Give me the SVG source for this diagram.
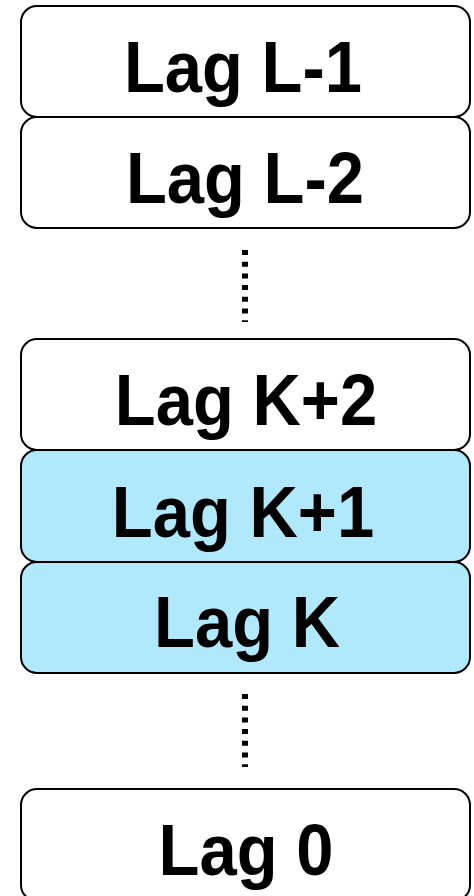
<svg xmlns="http://www.w3.org/2000/svg" width="474" height="896" viewBox="0 0 474 896">
<style>
.box{fill:#ffffff;stroke:#000;stroke-width:2}
.hl{fill:#b0e9fb}
.lbl{font-family:"Liberation Sans",Arial,sans-serif;font-weight:bold;font-size:72px;text-anchor:middle;fill:#000}
.dots{stroke:#000;stroke-width:6;stroke-dasharray:5 6.7;fill:none}
</style>
<rect width="474" height="896" fill="#fff"/>
<g id="connectors">
<line class="dots" x1="245" y1="250" x2="245" y2="322"/>
<line class="dots" x1="245" y1="694" x2="245" y2="767"/>
</g>
<g id="lagL1"><rect class="box" x="21" y="6" width="449" height="111" rx="16"/><text class="lbl" transform="translate(243,92) scale(0.93,1)">Lag L-1</text></g>
<g id="lagL2"><rect class="box" x="21" y="117" width="449" height="111" rx="16"/><text class="lbl" transform="translate(245,203) scale(0.93,1)">Lag L-2</text></g>
<g id="lagK2"><rect class="box" x="21" y="339" width="449" height="111" rx="16"/><text class="lbl" transform="translate(246,425) scale(0.93,1)">Lag K+2</text></g>
<g id="lagK1"><rect class="box hl" x="21" y="450" width="449" height="112" rx="16"/><text class="lbl" transform="translate(243,537) scale(0.93,1)">Lag K+1</text></g>
<g id="lagK"><rect class="box hl" x="21" y="562" width="449" height="111" rx="16"/><text class="lbl" transform="translate(247,647) scale(0.93,1)">Lag K</text></g>
<g id="lag0"><rect class="box" x="21" y="789" width="449" height="112" rx="16"/><text class="lbl" transform="translate(246,875) scale(0.93,1)">Lag 0</text></g>
</svg>
